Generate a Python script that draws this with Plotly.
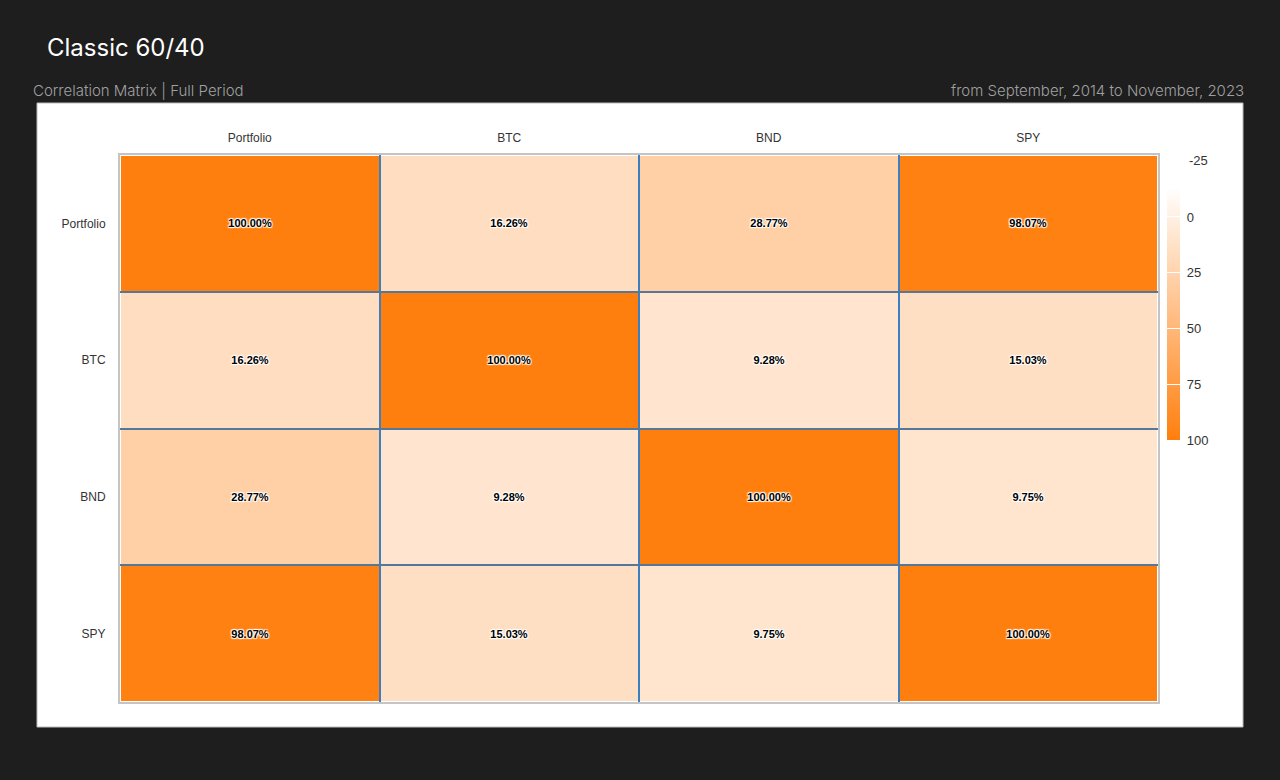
import plotly.graph_objects as go

labels = ["Portfolio", "BTC", "BND", "SPY"]
corr = [
    [100.00, 16.26, 28.77, 98.07],
    [16.26, 100.00, 9.28, 15.03],
    [28.77, 9.28, 100.00, 9.75],
    [98.07, 15.03, 9.75, 100.00],
]
cbar_ticks = [0, 25, 50, 75, 100]
title_text = "Classic 60/40"
subtitle_left = "Correlation Matrix | Full Period"
subtitle_right = "from September, 2014 to November, 2023"

W, H = 1280, 780
L, R, T, B = 120, 1158, 155, 702
pw, ph = R - L, B - T

def px(x):
    return (x - L) / pw

def py(y):
    return (B - y) / ph

# colour bar runs downward (100 at the bottom), so plot negated values
neg = [[-v for v in row] for row in corr]
cell_text = [[f"{v:.2f}%" for v in row] for row in corr]

fig = go.Figure(
    go.Heatmap(
        z=neg,
        x=labels,
        y=labels,
        zmin=-100,
        zmax=13.45,
        colorscale=[[0, "#ff7f0e"], [1, "#ffffff"]],
        xgap=2,
        ygap=2,
        text=cell_text,
        texttemplate="%{text}",
        textfont=dict(family="Liberation Sans, Arial", size=11, color="#000000",
                      weight="bold", shadow="1px 1px 1px #fff, -1px -1px 1px #fff, 1px -1px 1px #fff, -1px 1px 1px #fff"),
        hovertemplate="%{y} / %{x}: %{text}<extra></extra>",
        colorbar=dict(
            thickness=13,
            lenmode="pixels",
            len=253,
            x=px(1167),
            xanchor="left",
            y=py(313.5),
            yanchor="middle",
            outlinewidth=0,
            tickvals=[-t for t in cbar_ticks],
            ticktext=["\u00a0" + str(t) for t in cbar_ticks],
            ticks="inside",
            ticklen=13,
            tickcolor="#ffffff",
            tickwidth=1,
            tickfont=dict(family="Liberation Sans, Arial", size=13, color="#333333"),
            xpad=0,
            ypad=0,
        ),
    )
)

fig.update_layout(
    width=W,
    height=H,
    margin=dict(l=L, r=W - R, t=T, b=H - B, pad=0),
    paper_bgcolor="#1e1e1e",
    plot_bgcolor="#ffffff",
    font=dict(family="Liberation Sans, Arial", color="#333333"),
    xaxis=dict(
        side="top",
        tickson="boundaries",
        showgrid=True,
        gridcolor="#3a7fc4",
        gridwidth=2,
        ticks="",
        ticklen=0,
        showline=True,
        linecolor="#c4c4c4",
        linewidth=2,
        mirror=True,
        tickfont=dict(size=12, color="#333333"),
        ticklabelstandoff=6,
        zeroline=False,
    ),
    yaxis=dict(
        autorange="reversed",
        tickson="boundaries",
        showgrid=True,
        gridcolor="#55779a",
        gridwidth=2,
        ticks="",
        ticklen=0,
        showline=True,
        linecolor="#c4c4c4",
        linewidth=2,
        mirror=True,
        tickfont=dict(size=12, color="#333333"),
        ticklabelstandoff=10,
        zeroline=False,
    ),
    shapes=[
        dict(
            type="rect",
            xref="paper",
            yref="paper",
            x0=px(37),
            x1=px(1243),
            y0=py(727),
            y1=py(103),
            fillcolor="#ffffff",
            line=dict(color="#bbbbbb", width=1),
            layer="below",
        )
    ],
    annotations=[
        dict(text=title_text, xref="paper", yref="paper", x=px(45), y=py(47),
             xanchor="left", yanchor="middle", showarrow=False,
             font=dict(family="Inter", size=24, color="#ffffff")),
        dict(text=subtitle_left, xref="paper", yref="paper", x=px(31), y=py(91),
             xanchor="left", yanchor="middle", showarrow=False,
             font=dict(family="Inter", size=15, color="#a0a0a0", weight=300)),
        dict(text=subtitle_right, xref="paper", yref="paper", x=px(1246), y=py(91),
             xanchor="right", yanchor="middle", showarrow=False,
             font=dict(family="Inter", size=15, color="#a0a0a0", weight=300)),
        dict(text="-25", xref="paper", yref="paper", x=px(1187), y=py(160),
             xanchor="left", yanchor="middle", showarrow=False,
             font=dict(family="Liberation Sans, Arial", size=13, color="#333333")),
    ],
)

fig.write_html(
    "out.html",
    config={"displayModeBar": False},
    post_script="document.body.style.margin='0';document.body.style.background='#1e1e1e';",
)
